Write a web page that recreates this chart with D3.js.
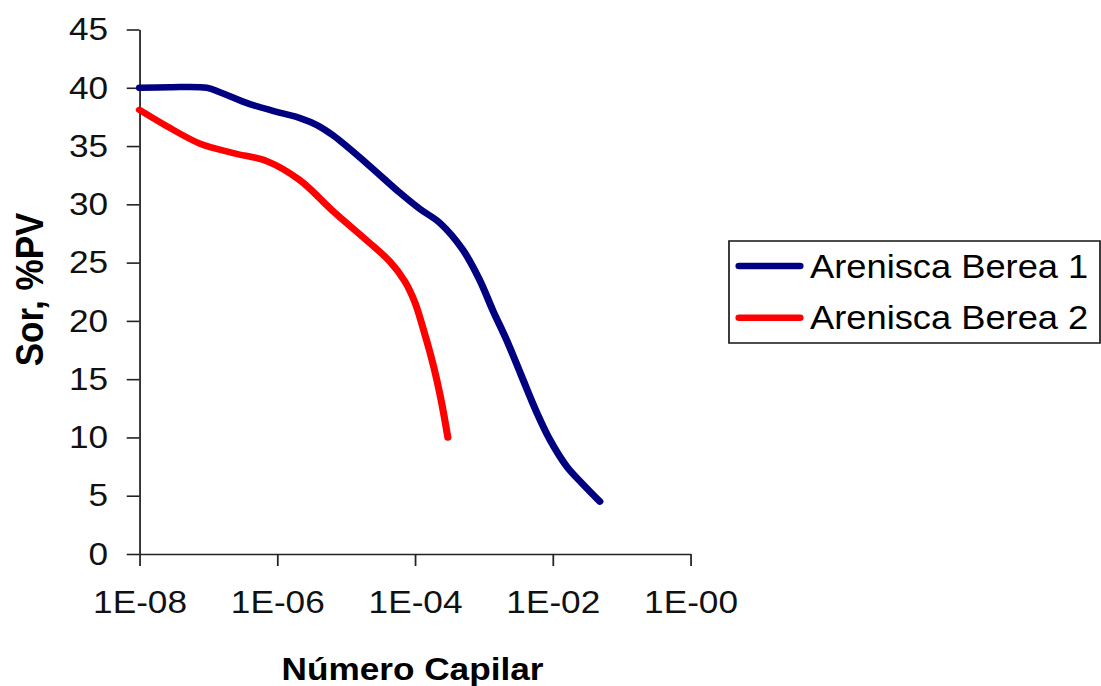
<!DOCTYPE html>
<html>
<head>
<meta charset="utf-8">
<script src="https://cdn.jsdelivr.net/npm/d3@7"></script>
<style>
  body { margin: 0; background: #fff; }
  text { font-family: "Liberation Sans", Arial, sans-serif; fill: #000; }
  .axis path, .axis line { stroke: #222; stroke-width: 1.6; }
  .axis text { font-size: 32px; fill: #111; }
</style>
</head>
<body>
<script>
// Numero capilar (x) and Sor %PV (y)
const capilar1 = [1e-8, 2.75e-8, 9.5e-8, 1.5e-7, 4.0e-7, 1.2e-6, 2.14e-6, 3.77e-6, 6.5e-6, 2.0e-5,
                  6.0e-5, 1.18e-4, 2.3e-4, 4.95e-4, 8.7e-4, 1.35e-3, 2.16e-3, 3.45e-3, 5.9e-3,
                  9.1e-3, 1.6e-2, 2.73e-2, 4.83e-2];
const sor1 =     [40, 40.05, 40, 39.6, 38.6, 37.8, 37.4, 36.8, 35.9, 33.5,
                  31, 29.6, 28.4, 26.1, 23.5, 20.9, 18.3, 15.4, 12.1,
                  9.8, 7.5, 6.0, 4.5];

const capilar2 = [1e-8, 2.5e-8, 7.6e-8, 2.3e-7, 7.1e-7, 2.1e-6, 6.5e-6, 2.0e-5, 4.3e-5,
                  7.1e-5, 9.95e-5, 1.35e-4, 1.7e-4, 2.08e-4, 2.45e-4, 3.0e-4];
const sor2 =     [38.1, 36.7, 35.2, 34.4, 33.7, 32.1, 29.4, 26.9, 25.1,
                  23.4, 21.6, 19.1, 17.0, 14.9, 12.9, 10];

const seriesNames = ['Arenisca Berea 1', 'Arenisca Berea 2'];
const seriesColors = ['#000080', '#ff0000'];
const xTicks = [1e-8, 1e-6, 1e-4, 1e-2, 1];
const xTickLabels = ['1E-08', '1E-06', '1E-04', '1E-02', '1E-00'];
const yTicks = [0, 5, 10, 15, 20, 25, 30, 35, 40, 45];

// the original picture is a little wider than tall, so stretch the view box
const W = 1101, H = 686, sx = 1.1;
const svg = d3.select(document.body)
    .append('svg')
    .attr('width', W)
    .attr('height', H)
    .attr('viewBox', `0 0 ${W / sx} ${H}`)
    .attr('preserveAspectRatio', 'none');

const plotLeft = 139.5 / sx, plotRight = 690.5 / sx, plotTop = 29.5, plotBottom = 554;

const xScale = d3.scaleLog().domain([1e-8, 1]).range([plotLeft, plotRight]);
const yScale = d3.scaleLinear().domain([0, 45]).range([plotBottom, plotTop]);

svg.append('g')
    .attr('class', 'axis')
    .attr('transform', `translate(0,${plotBottom})`)
    .call(d3.axisBottom(xScale)
        .tickValues(xTicks)
        .tickFormat((d, i) => xTickLabels[i])
        .tickSize(12)
        .tickSizeOuter(0)
        .tickPadding(24));

svg.append('g')
    .attr('class', 'axis')
    .attr('transform', `translate(${plotLeft},0)`)
    .call(d3.axisLeft(yScale)
        .tickValues(yTicks)
        .tickSize(11.6)
        .tickSizeOuter(0)
        .tickPadding(17));

svg.selectAll('.axis .domain').attr('fill', 'none');

const line = d3.line()
    .x(d => xScale(d[0]))
    .y(d => yScale(d[1]))
    .curve(d3.curveCatmullRom.alpha(0.5));

const series = [
    d3.zip(capilar1, sor1),
    d3.zip(capilar2, sor2)
];

svg.append('g')
    .selectAll('path')
    .data(series)
    .enter()
    .append('path')
    .attr('d', d => line(d))
    .attr('fill', 'none')
    .attr('stroke', (d, i) => seriesColors[i])
    .attr('stroke-width', 6.5)
    .attr('stroke-linecap', 'round')
    .attr('stroke-linejoin', 'round');

// axis titles
svg.append('text')
    .attr('x', 412.5 / sx)
    .attr('y', 680)
    .attr('text-anchor', 'middle')
    .style('font-size', '32px')
    .style('font-weight', 'bold')
    .text('Número Capilar');

svg.append('text')
    .attr('transform', `translate(${43 / sx},${289.5}) rotate(-90)`)
    .attr('text-anchor', 'middle')
    .style('font-size', '35px')
    .style('font-weight', 'bold')
    .text('Sor, %PV');

// legend
const legend = svg.append('g');
legend.append('rect')
    .attr('x', 729 / sx)
    .attr('y', 241)
    .attr('width', (1100 - 729) / sx)
    .attr('height', 102)
    .attr('fill', '#fff')
    .attr('stroke', '#222')
    .attr('stroke-width', 1.6);

const items = legend.selectAll('g.item')
    .data(seriesNames)
    .enter()
    .append('g')
    .attr('class', 'item')
    .attr('transform', (d, i) => `translate(0,${266 + i * 51.7})`);

items.append('line')
    .attr('x1', 739 / sx)
    .attr('x2', 800 / sx)
    .attr('stroke', (d, i) => seriesColors[i])
    .attr('stroke-width', 6.5)
    .attr('stroke-linecap', 'round');

items.append('text')
    .attr('x', 810 / sx)
    .attr('y', 11.5)
    .style('font-size', '33px')
    .text(d => d);
</script>
</body>
</html>
